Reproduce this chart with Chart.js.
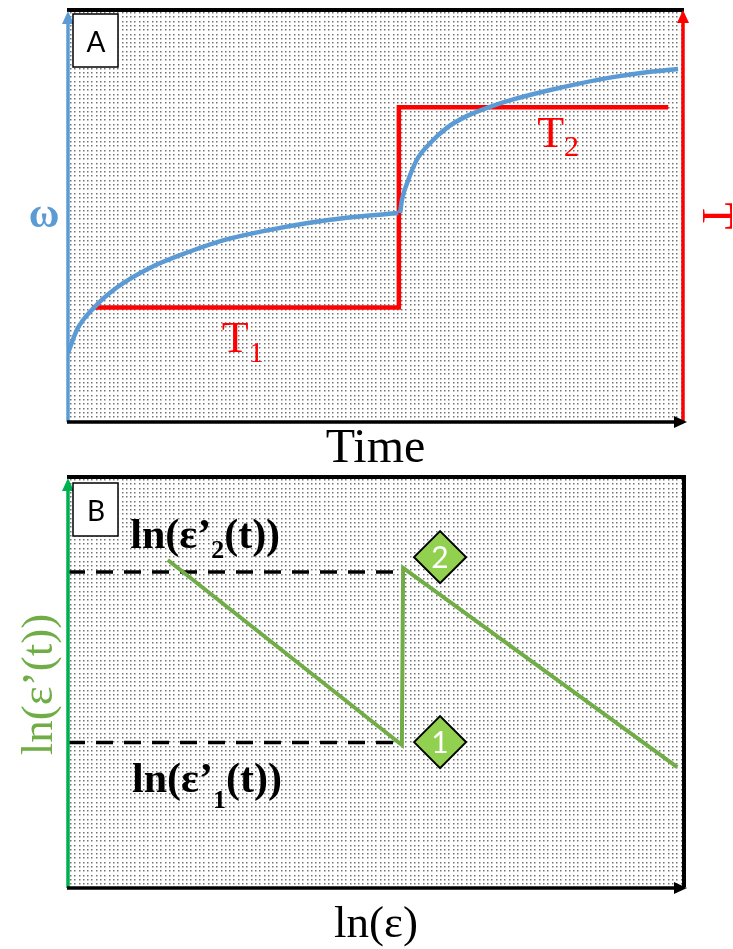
<!DOCTYPE html>
<html>
<head>
  <title>Stepped temperature creep schematic</title>
  <meta charset="UTF-8">
  <script src="https://cdn.jsdelivr.net/npm/chart.js"></script>
  <style>
    body {
      margin: 0;
      background-color: #fff;
      overflow: hidden;
    }
    canvas {
      position: absolute;
      left: 0;
    }
    #panelA { top: 0; }
    #panelB { top: 470px; }
  </style>
</head>
<body>
  <canvas id="panelA" width="733" height="470"></canvas>
  <canvas id="panelB" width="733" height="479"></canvas>

  <script>
    // Panel A: omega rising in two branches, temperature stepping from T1 to T2
    const omegaTimeLow = [0, 0.15, 0.42, 0.80, 1.33, 1.95, 2.55, 3.20, 3.90, 4.60, 5.37];
    const omegaLow = [1.67, 2.25, 2.77, 3.27, 3.74, 4.12, 4.42, 4.64, 4.83, 4.97, 5.07];
    const omegaTimeHigh = [5.40, 5.43, 5.51, 5.67, 5.89, 6.16, 6.49, 6.86, 7.24, 7.79, 8.33, 8.86, 9.41, 9.92];
    const omegaHigh = [5.07, 5.39, 5.78, 6.36, 6.77, 7.14, 7.43, 7.65, 7.83, 8.04, 8.22, 8.37, 8.49, 8.57];
    const tempTime = [0.39, 5.38, 5.38, 9.76];
    const tempLevel = [2.78, 2.78, 7.64, 7.64];

    // Panel B: ln(strain rate) against ln(strain)
    const lnStrain = [1.62, 5.42, 5.44, 9.89];
    const lnRate = [7.98, 3.48, 7.79, 2.94];
    const rateLevels = [3.54, 7.69];
    const levelEnd = 5.28;
    const markerX = [6.04, 6.04];
    const markerY = [3.55, 8.05];
    const markerNames = ['1', '2'];

    const BLUE = '#5B9BD5';
    const RED = '#FF0000';
    const GREEN = '#70AD47';
    const AXIS_GREEN = '#00B050';
    const DIAMOND = '#92D050';
    const SERIF = '"Liberation Serif", "Times New Roman", serif';
    const SANS = 'Lato, "Liberation Sans", sans-serif';

    const pts = (xs, ys) => xs.map((x, i) => ({ x: x, y: ys[i] }));

    // dotted fill behind the plot
    function stipple(ctx, a) {
      ctx.save();
      ctx.fillStyle = 'rgba(0, 0, 0, 0.55)';
      for (let y = a.top + 2; y < a.bottom - 1; y += 4.3) {
        for (let x = a.left + 2; x < a.right - 1; x += 4.3) {
          ctx.fillRect(Math.round(x), Math.round(y), 1.5, 1.5);
        }
      }
      ctx.restore();
    }

    function line(ctx, x1, y1, x2, y2, color, width) {
      ctx.save();
      ctx.strokeStyle = color;
      ctx.lineWidth = width;
      ctx.beginPath();
      ctx.moveTo(x1, y1);
      ctx.lineTo(x2, y2);
      ctx.stroke();
      ctx.restore();
    }

    function arrow(ctx, x1, y1, x2, y2, color, width) {
      const len = Math.hypot(x2 - x1, y2 - y1);
      const ux = (x2 - x1) / len, uy = (y2 - y1) / len;
      const head = 13, half = 6;
      const bx = x2 - ux * head, by = y2 - uy * head;
      line(ctx, x1, y1, bx + ux, by + uy, color, width);
      ctx.save();
      ctx.fillStyle = color;
      ctx.beginPath();
      ctx.moveTo(x2, y2);
      ctx.lineTo(bx - uy * half, by + ux * half);
      ctx.lineTo(bx + uy * half, by - ux * half);
      ctx.closePath();
      ctx.fill();
      ctx.restore();
    }

    function tag(ctx, x, y, text) {
      ctx.save();
      ctx.fillStyle = '#fff';
      ctx.fillRect(x, y, 45, 53);
      ctx.strokeStyle = '#000';
      ctx.lineWidth = 1.5;
      ctx.strokeRect(x, y, 45, 53);
      ctx.fillStyle = '#000';
      ctx.font = '28px ' + SANS;
      ctx.textAlign = 'center';
      ctx.textBaseline = 'alphabetic';
      ctx.fillText(text, x + 23, y + 38);
      ctx.restore();
    }

    // text made of runs [text, font, baseline shift]
    function runs(ctx, parts, x, y, color) {
      ctx.save();
      ctx.fillStyle = color;
      ctx.textAlign = 'left';
      ctx.textBaseline = 'alphabetic';
      parts.forEach(function(p) {
        ctx.font = p[1];
        ctx.fillText(p[0], x, y + p[2]);
        x += ctx.measureText(p[0]).width;
      });
      ctx.restore();
    }

    function rotated(ctx, text, x, y, angle, font, color) {
      ctx.save();
      ctx.translate(x, y);
      ctx.rotate(angle);
      ctx.font = font;
      ctx.fillStyle = color;
      ctx.textAlign = 'center';
      ctx.textBaseline = 'alphabetic';
      ctx.fillText(text, 0, 0);
      ctx.restore();
    }

    const hidden = () => ({ type: 'linear', min: 0, max: 10, display: false });

    const panelAPlugin = {
      id: 'panelADecor',
      beforeDatasetsDraw(chart) {
        stipple(chart.ctx, chart.chartArea);
      },
      afterDraw(chart) {
        const ctx = chart.ctx, a = chart.chartArea;
        const x = chart.scales.x, yT = chart.scales.yT;
        const midY = (a.top + a.bottom) / 2;
        line(ctx, a.left - 1, a.top, a.right + 1, a.top, '#000', 4);
        arrow(ctx, a.left, a.bottom, a.left, a.top + 1, BLUE, 3.5);
        arrow(ctx, a.right, a.bottom, a.right, a.top, RED, 3.5);
        arrow(ctx, a.left - 1, a.bottom, a.right + 4, a.bottom, '#000', 3.5);
        tag(ctx, a.left + 5, a.top + 4, 'A');

        ctx.save();
        ctx.font = 'bold 42px ' + SERIF;
        ctx.fillStyle = BLUE;
        ctx.textAlign = 'center';
        ctx.fillText('\u03C9', a.left - 24, midY + 11);
        ctx.restore();
        rotated(ctx, 'T', a.right + 20, midY, Math.PI / 2, '44px ' + SERIF, RED);

        runs(ctx, [['T', '44px ' + SERIF, 0], ['1', '30px ' + SERIF, 10]],
          x.getPixelForValue(2.50), yT.getPixelForValue(1.70), RED);
        runs(ctx, [['T', '44px ' + SERIF, 0], ['2', '30px ' + SERIF, 9]],
          x.getPixelForValue(7.63), yT.getPixelForValue(6.67), RED);

        ctx.save();
        ctx.font = '48px ' + SERIF;
        ctx.fillStyle = '#000';
        ctx.textAlign = 'center';
        ctx.fillText('Time', (a.left + a.right) / 2, a.bottom + 40);
        ctx.restore();
      }
    };

    new Chart(document.getElementById('panelA'), {
      type: 'line',
      data: {
        datasets: [
          {
            data: pts(omegaTimeLow, omegaLow),
            borderColor: BLUE,
            borderWidth: 4.5,
            pointRadius: 0,
            cubicInterpolationMode: 'monotone',
            yAxisID: 'y'
          },
          {
            data: pts(omegaTimeHigh, omegaHigh),
            borderColor: BLUE,
            borderWidth: 4.5,
            pointRadius: 0,
            cubicInterpolationMode: 'monotone',
            yAxisID: 'y'
          },
          {
            data: pts(tempTime, tempLevel),
            borderColor: RED,
            borderWidth: 4.5,
            pointRadius: 0,
            tension: 0,
            yAxisID: 'yT'
          }
        ]
      },
      options: {
        responsive: false,
        animation: false,
        devicePixelRatio: 1,
        layout: { autoPadding: false, padding: { left: 68, right: 50, top: 10, bottom: 48 } },
        plugins: { legend: { display: false }, tooltip: { enabled: false } },
        scales: {
          x: hidden(),
          y: hidden(),
          yT: Object.assign(hidden(), { position: 'right' })
        }
      },
      plugins: [panelAPlugin]
    });

    const panelBPlugin = {
      id: 'panelBDecor',
      beforeDatasetsDraw(chart) {
        stipple(chart.ctx, chart.chartArea);
      },
      afterDatasetsDraw(chart) {
        const ctx = chart.ctx;
        ctx.save();
        ctx.fillStyle = '#fff';
        ctx.font = '30px ' + SANS;
        ctx.textAlign = 'center';
        ctx.textBaseline = 'middle';
        chart.getDatasetMeta(0).data.forEach(function(pt, i) {
          ctx.fillText(markerNames[i], pt.x, pt.y + 1);
        });
        ctx.restore();
      },
      afterDraw(chart) {
        const ctx = chart.ctx, a = chart.chartArea;
        const x = chart.scales.x, y = chart.scales.y;
        line(ctx, a.left - 1, a.top, a.right + 2, a.top, '#000', 4);
        line(ctx, a.right, a.top, a.right, a.bottom - 1, '#000', 4);
        arrow(ctx, a.left, a.bottom, a.left, a.top + 1, AXIS_GREEN, 3.5);
        arrow(ctx, a.left - 1, a.bottom, a.right + 3, a.bottom, '#000', 3.5);
        tag(ctx, a.left + 5, a.top + 6, 'B');

        const bold = 'bold 42px ' + SERIF, sub = 'bold 26px ' + SERIF;
        runs(ctx, [['ln(\u03B5\u2019', bold, 0], ['2', sub, 10], ['(t))', bold, 0]],
          x.getPixelForValue(1.01), y.getPixelForValue(8.27), '#000');
        runs(ctx, [['ln(\u03B5\u2019', bold, 0], ['1', sub, 16], ['(t))', bold, 0]],
          x.getPixelForValue(1.04), y.getPixelForValue(2.34), '#000');

        rotated(ctx, 'ln(\u03B5\u2019(t))', a.left - 16, (a.top + a.bottom) / 2 + 2,
          -Math.PI / 2, '45px ' + SERIF, GREEN);

        ctx.save();
        ctx.font = '45px ' + SERIF;
        ctx.fillStyle = '#000';
        ctx.textAlign = 'center';
        ctx.fillText('ln(\u03B5)', (a.left + a.right) / 2, a.bottom + 49);
        ctx.restore();
      }
    };

    const levelSets = rateLevels.map(function(v) {
      return {
        data: [{ x: 0, y: v }, { x: levelEnd, y: v }],
        borderColor: '#000',
        borderWidth: 3.5,
        borderDash: [17, 11],
        pointRadius: 0
      };
    });

    new Chart(document.getElementById('panelB'), {
      type: 'line',
      data: {
        datasets: [
          {
            data: pts(markerX, markerY),
            showLine: false,
            pointStyle: 'rectRot',
            pointRadius: 26,
            pointBackgroundColor: DIAMOND,
            pointBorderColor: '#000',
            pointBorderWidth: 2
          },
          {
            data: pts(lnStrain, lnRate),
            borderColor: GREEN,
            borderWidth: 4,
            pointRadius: 0,
            tension: 0
          }
        ].concat(levelSets)
      },
      options: {
        responsive: false,
        animation: false,
        devicePixelRatio: 1,
        layout: { autoPadding: false, padding: { left: 68, right: 49, top: 7, bottom: 61 } },
        plugins: { legend: { display: false }, tooltip: { enabled: false } },
        scales: { x: hidden(), y: hidden() }
      },
      plugins: [panelBPlugin]
    });
  </script>
</body>
</html>
